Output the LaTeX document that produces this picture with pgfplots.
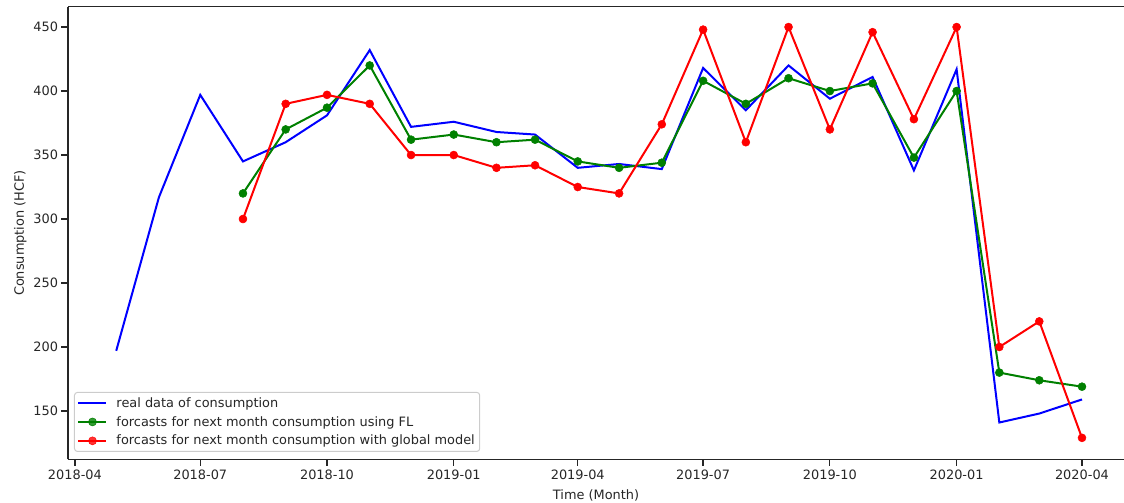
\documentclass[border=0pt]{standalone}
\usepackage{pgfplots}
\pgfplotsset{compat=1.18}
\usepackage{pgfplotstable}
\usepackage{fontspec}
\setmainfont{DejaVu Sans}
\usetikzlibrary{calc}
\definecolor{txt}{gray}{0.15}
\definecolor{lblue}{RGB}{0,0,255}
\definecolor{lgreen}{RGB}{0,128,0}
\definecolor{lred}{RGB}{255,0,0}
\newcommand{\fs}{\fontsize{12.9}{15.5}\selectfont}

\pgfplotstableread{
d v
30 197
61 317
91 397
122 345
153 360
183 381
214 432
244 372
275 376
306 368
334 366
365 340
395 343
426 339
456 418
487 385
518 420
548 394
579 411
609 338
640 417
671 141
700 148
731 159
}\realdata

\pgfplotstableread{
d v
122 320
153 370
183 387
214 420
244 362
275 366
306 360
334 362
365 345
395 340
426 344
456 408
487 390
518 410
548 400
579 406
609 348
640 400
671 180
700 174
731 169
}\fldata

\pgfplotstableread{
d v
122 300
153 390
183 397
214 390
244 350
275 350
306 340
334 342
365 325
395 320
426 374
456 448
487 360
518 450
548 370
579 446
609 378
640 450
671 200
700 220
731 129
}\globaldata

\begin{document}
\begin{tikzpicture}
\begin{axis}[
  name=ax,
  scale only axis,
  width=1056pt, height=452.8pt,
  xmin=-5, xmax=761.5,
  ymin=112.1, ymax=465.9,
  axis lines*=left,
  axis line style={draw=txt, line width=1.25pt, -},
  xtick={0,91,183,275,365,456,548,640,731},
  xticklabels={2018-04,2018-07,2018-10,2019-01,2019-04,2019-07,2019-10,2020-01,2020-04},
  ytick={150,200,250,300,350,400,450},
  tick align=outside,
  major tick length=6.5pt,
  tick style={draw=txt, line width=1.25pt},
  /pgf/number format/assume math mode=true,
  tick label style={font=\fs, text=txt},
  xticklabel style={yshift=-0.5pt},
  label style={font=\fs, text=txt},
  xlabel={Time (Month)},
  xlabel style={yshift=-3pt},
  ylabel={Consumption (HCF)},
  legend cell align=left,
  legend style={at={(axis description cs:0,0)}, anchor=south west,
    xshift=6pt, yshift=7.5pt,
    draw={gray!40}, line width=1pt, rounded corners=3pt,
    fill=white, fill opacity=0.8, text opacity=1,
    font=\fs, text=txt, inner sep=3pt, row sep=3.6pt, column sep=7pt},
  legend image code/.code={\draw[mark repeat=2,mark phase=2,#1] plot coordinates {(0pt,0pt) (14pt,0pt) (28pt,0pt)};},
]
\addplot[lblue, line width=2pt] table[x=d,y=v]{\realdata};
\addlegendentry{real data of consumption}
\addplot[lgreen, line width=2pt, mark=*, mark size=4pt, mark options={solid, fill=lgreen, draw=lgreen, line width=0.5pt}] table[x=d,y=v]{\fldata};
\addlegendentry{forcasts for next month consumption using FL}
\addplot[lred, line width=2pt, mark=*, mark size=4pt, mark options={solid, fill=lred, draw=lred, line width=0.5pt}] table[x=d,y=v]{\globaldata};
\addlegendentry{forcasts for next month consumption with global model}
\draw[txt, line width=1.25pt] (rel axis cs:0,1) -- (rel axis cs:1,1);
\end{axis}
\pgfresetboundingbox
\path[use as bounding box] ($(ax.south west)+(-68pt,-43.5pt)$) rectangle ($(ax.north east)+(0pt,6.7pt)$);
\end{tikzpicture}
\end{document}
